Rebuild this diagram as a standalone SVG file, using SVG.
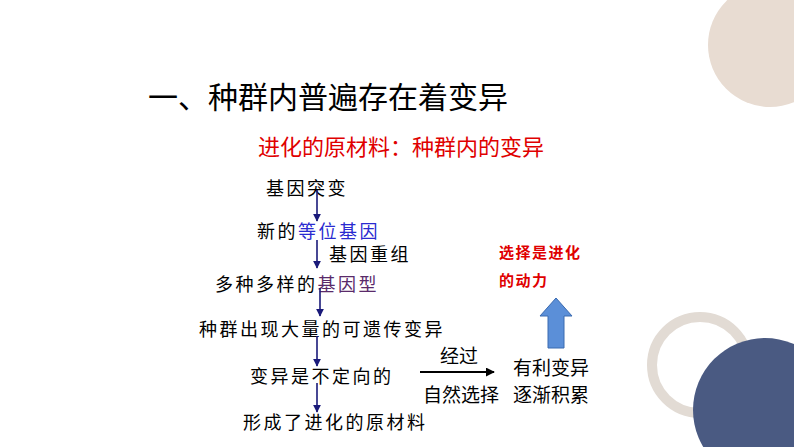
<svg xmlns="http://www.w3.org/2000/svg" width="794" height="447" viewBox="0 0 794 447">
<defs>
<style>
text{font-family:"Noto Sans CJK SC","Noto Sans",sans-serif;fill:#000}
.s{font-size:18px;letter-spacing:2.5px}
.m{font-size:19px}
.r{fill:#e00000}
.v{stroke:#1a1a7a;stroke-width:1.6;fill:none;marker-end:url(#a)}
</style>
<marker id="a" viewBox="0 0 10 10" refX="9" refY="5" markerWidth="5" markerHeight="5" orient="auto"><path d="M0,0L10,5L0,10z" fill="#1a1a7a"/></marker>
<marker id="b" viewBox="0 0 10 10" refX="9" refY="5" markerWidth="5" markerHeight="5" orient="auto"><path d="M0,0L10,5L0,10z" fill="#000"/></marker>
</defs>
<rect width="794" height="447" fill="#fff"/>
<g id="decor">
<circle cx="770" cy="45" r="62" fill="#e8dcd2"/>
<circle cx="700" cy="365" r="48" fill="none" stroke="#e2dbd4" stroke-width="10"/>
<circle cx="765" cy="410" r="72" fill="#4a5a82"/>
</g>
<g id="title"><text x="148" y="108" font-size="30">一、种群内普遍存在着变异</text>
<text x="258" y="155" font-size="22" class="r">进化的原材料：种群内的变异</text></g>
<g id="n1"><text class="s" x="266" y="195">基因突变</text></g>
<g id="n2"><text class="s" x="257" y="238">新的<tspan fill="#2a2ad0">等位基因</tspan></text></g>
<g id="n2b"><text class="s" x="329" y="261" letter-spacing="0">基因重组</text></g>
<g id="n3"><text class="s" x="215" y="291">多种多样的<tspan fill="#5a2a6a">基因型</tspan></text></g>
<g id="n4"><text class="s" x="199" y="336">种群出现大量的可遗传变异</text></g>
<g id="n5"><text class="s" x="250" y="383">变异是不定向的</text></g>
<g id="n6"><text class="s" x="243" y="429">形成了进化的原材料</text></g>
<g id="n7"><text class="m" x="440" y="363">经过</text><text class="m" x="423" y="402">自然选择</text></g>
<g id="n8"><text class="m" x="513" y="375">有利变异</text><text class="m" x="513" y="402">逐渐积累</text></g>
<g id="n9"><text x="499" y="258" font-size="15" font-weight="bold" letter-spacing="1.5" class="r">选择是进化</text><text x="499" y="286" font-size="15" font-weight="bold" letter-spacing="1.5" class="r">的动力</text></g>
<g id="connectors">
<path class="v" d="M317,190V221"/>
<path class="v" d="M317,240V268"/>
<path class="v" d="M320,288V316"/>
<path class="v" d="M317,336V366"/>
<path class="v" d="M317,383V412"/>
<path d="M420,372H494" stroke="#000" stroke-width="1.8" marker-end="url(#b)"/>
<path d="M548,348V316H540L556,298L572,316H564V348Z" fill="#5b8fd8" stroke="#3a6ab0"/>
</g>
</svg>
